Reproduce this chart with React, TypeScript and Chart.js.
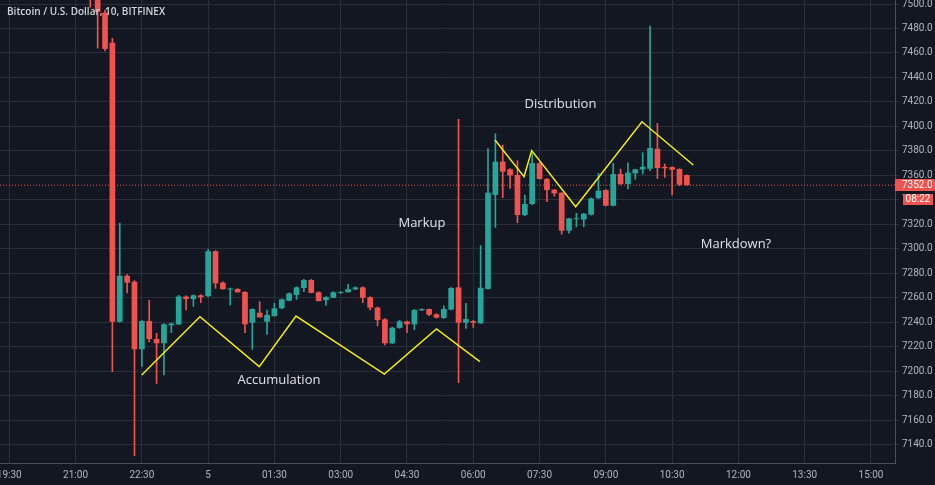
import React, { useEffect, useRef } from "react";
import { Chart, registerables } from "chart.js";

Chart.register(...registerables);

const TITLE = "Bitcoin / U.S. Dollar, 10, BITFINEX";
// bar open times, minutes after 00:00 of the 4th (first bar 21:20, 10-minute bars)
const FIRST_BAR = 1280;
const BAR_MINUTES = 10;

const opens = [
  7530, 7512, 7493, 7468.4, 7240.4, 7278, 7273.1, 7217.9, 7241, 7226.3,
  7222.8, 7237.5, 7238.3, 7261, 7259, 7262, 7261.4, 7298, 7272.3, 7266.8,
  7267.2, 7264.7, 7239.6, 7247.8, 7240.4, 7245, 7251.4, 7257.6, 7262.3, 7268,
  7274.5, 7264.5, 7258, 7260, 7264, 7264.5, 7266.9, 7268.5, 7260.4, 7252,
  7242.4, 7222.8, 7235.4, 7240.7, 7238.3, 7249.8, 7250.8, 7246.5, 7243.5, 7250.3,
  7268.5, 7239.6, 7241, 7239.1, 7267.2, 7344, 7371.2, 7365, 7360.3, 7327.6,
  7336.6, 7370, 7357, 7348.3, 7345.8, 7314.8, 7324.2, 7323.9, 7327.9, 7341.5,
  7348, 7335.2, 7361.1, 7352.9, 7361.7, 7364.9, 7365.4, 7381.8, 7367, 7366.8,
  7365.2, 7360.3,
];
const highs = [
  7535, 7516, 7495, 7472, 7320.8, 7279, 7274, 7241.5, 7258, 7231,
  7239, 7239.5, 7262, 7261.5, 7262.5, 7262.5, 7299.6, 7298.5, 7273, 7268,
  7267.5, 7265, 7251, 7256.8, 7250, 7255.5, 7259, 7264, 7269, 7275,
  7275, 7265, 7261, 7265, 7265, 7271, 7269, 7269, 7261, 7252.5,
  7243, 7236, 7241.5, 7241, 7250.5, 7251, 7251, 7247, 7253.3, 7268.5,
  7405.8, 7255.5, 7241.5, 7302.6, 7381.8, 7394, 7384.8, 7365.5, 7372, 7344,
  7378, 7370.5, 7357.5, 7348.5, 7346, 7325, 7329, 7329, 7341.5, 7361.7,
  7348.5, 7369.8, 7365.2, 7370.3, 7365, 7378.5, 7482, 7402.5, 7369.3, 7367,
  7365.5, 7360.5,
];
const lows = [
  7497.5, 7464, 7461.6, 7199.6, 7240, 7264, 7131, 7204, 7224, 7190,
  7197, 7231.5, 7238, 7250, 7253, 7256, 7261, 7267.7, 7267, 7254,
  7264.5, 7231.5, 7217.9, 7244, 7230, 7245, 7251, 7257.5, 7258.7, 7265,
  7264, 7257.3, 7253.8, 7260, 7263.5, 7264.5, 7266.5, 7256, 7250, 7237,
  7221.4, 7222.5, 7235, 7231.5, 7234, 7249.5, 7245.4, 7243.5, 7243, 7250,
  7190.6, 7235, 7235.8, 7239, 7267, 7317.5, 7341.8, 7349.4, 7321.3, 7327,
  7336, 7357, 7338.5, 7343, 7312, 7312.7, 7318, 7318, 7327.5, 7341,
  7335, 7335, 7352.5, 7348.9, 7356.8, 7361.1, 7363.8, 7357.3, 7358.4, 7344,
  7351.6, 7352,
];
const closes = [
  7510, 7493.5, 7463.3, 7240.4, 7278, 7272.3, 7217.9, 7241, 7226.3, 7222.8,
  7238.3, 7239, 7261, 7259, 7262, 7260.4, 7298, 7271.8, 7267, 7267.6,
  7264.5, 7238.3, 7250.8, 7244, 7246, 7251.4, 7258.7, 7263.6, 7268.5, 7274.5,
  7264, 7257.3, 7260.6, 7264.5, 7264.7, 7267, 7268.5, 7260, 7252, 7241.8,
  7222.8, 7235.5, 7240.8, 7238.3, 7250, 7250.8, 7246.2, 7243.7, 7250.8, 7268,
  7239.6, 7242.6, 7239.6, 7268.2, 7345.9, 7371.2, 7363, 7360, 7327.6, 7336.6,
  7370, 7357, 7348, 7345.3, 7314.8, 7324.9, 7325, 7328.7, 7341.2, 7347.5,
  7335.2, 7361.1, 7352.9, 7362.2, 7364.9, 7367, 7382.4, 7366, 7365.8, 7364.6,
  7352.4, 7352,
];

const xTickValues = [1170, 1260, 1350, 1440, 1530, 1620, 1710, 1800, 1890, 1980, 2070, 2160, 2250, 2340];
const xTickLabels = ["19:30", "21:00", "22:30", "5", "01:30", "03:00", "04:30", "06:00", "07:30", "09:00", "10:30", "12:00", "13:30", "15:00"];

const accumX = [1349.8, 1428.9, 1509.4, 1559.3, 1679.2, 1750, 1809];
const accumY = [7196.9, 7244.5, 7203.7, 7245, 7197.7, 7234.5, 7207.8];
const distX = [1829.5, 1868.9, 1879.3, 1939, 2029, 2098.7];
const distY = [7388.9, 7358.9, 7380.2, 7334.4, 7403.8, 7368.5];

const noteTexts = ["Accumulation", "Markup", "Distribution", "Markdown?"];
const noteX = [1536.2, 1730.3, 1918.4, 2156.7];
const noteY = [7192.8, 7321.1, 7418.3, 7303.9];

const LAST_PRICE = 7352.0;
const COUNTDOWN = "08:22";

const X_MIN = 1157.4;
const X_MAX = 2372.6;
const Y_MIN = 7125;
const Y_MAX = 7503.3;

const UP = "#26a69a";
const DOWN = "#ef5350";
const BG = "#131722";
const GRID = "#2a2e39";
const TEXT = "#b2b5be";

export default function App() {
  const ref = useRef<HTMLCanvasElement | null>(null);

  useEffect(() => {
    document.body.style.margin = "0";
    const canvas = ref.current;
    if (!canvas) return;

    const times = opens.map((_, i) => FIRST_BAR + i * BAR_MINUTES);
    const colors = opens.map((o, i) => (closes[i] >= o ? UP : DOWN));
    const wickData = times.map((t, i) => ({ x: t, y: [lows[i], highs[i]] }));
    const bodyData = times.map((t, i) => ({ x: t, y: [opens[i], closes[i]] }));

    const bgPlugin = {
      id: "bgFill",
      beforeDraw(chart: any) {
        const ctx = chart.ctx;
        ctx.save();
        ctx.fillStyle = BG;
        ctx.fillRect(0, 0, chart.width, chart.height);
        ctx.restore();
      },
    };

    const overlayPlugin = {
      id: "overlay",
      afterDraw(chart: any) {
        const ctx = chart.ctx;
        const xs = chart.scales.x;
        const ys = chart.scales.y;
        const area = chart.chartArea;
        ctx.save();
        ctx.font = '13px "Open Sans"';
        ctx.fillStyle = "#e0e3eb";
        ctx.textAlign = "center";
        ctx.textBaseline = "middle";
        noteTexts.forEach((t, i) => {
          ctx.fillText(t, xs.getPixelForValue(noteX[i]), ys.getPixelForValue(noteY[i]));
        });
        ctx.font = '600 10px "Open Sans"';
        ctx.textAlign = "left";
        ctx.fillStyle = "#d1d4dc";
        ctx.fillText(TITLE, 7, 12);
        const py = Math.round(ys.getPixelForValue(LAST_PRICE));
        ctx.fillStyle = DOWN;
        ctx.fillRect(area.right, py - 6, 40, 12);
        ctx.fillRect(area.right + 8, py + 9, 30, 11);
        ctx.fillStyle = "#ffffff";
        ctx.font = "10px Roboto";
        ctx.textAlign = "left";
        ctx.fillText(LAST_PRICE.toFixed(1), area.right + 7, py);
        ctx.textAlign = "center";
        ctx.fillText(COUNTDOWN, area.right + 23, py + 14.5);
        ctx.restore();
      },
    };

    const chart = new Chart(canvas, {
      type: "bar",
      data: {
        datasets: [
          {
            type: "line",
            data: [
              { x: X_MIN, y: LAST_PRICE },
              { x: X_MAX, y: LAST_PRICE },
            ],
            borderColor: DOWN,
            borderWidth: 1,
            borderDash: [1, 2],
            pointRadius: 0,
            order: 5,
          } as any,
          {
            type: "bar",
            data: wickData as any,
            backgroundColor: colors,
            borderWidth: 0,
            grouped: false,
            maxBarThickness: 1,
            barPercentage: 1,
            categoryPercentage: 1,
            order: 4,
          } as any,
          {
            type: "bar",
            data: bodyData as any,
            backgroundColor: colors,
            borderWidth: 0,
            grouped: false,
            maxBarThickness: 5.7,
            barPercentage: 0.8,
            categoryPercentage: 1,
            minBarLength: 1,
            order: 3,
          } as any,
          {
            type: "line",
            data: accumX.map((x, i) => ({ x, y: accumY[i] })),
            borderColor: "#f5eb10",
            borderWidth: 1.5,
            pointRadius: 0,
            tension: 0,
            order: 1,
          } as any,
          {
            type: "line",
            data: distX.map((x, i) => ({ x, y: distY[i] })),
            borderColor: "#f5eb10",
            borderWidth: 1.5,
            pointRadius: 0,
            tension: 0,
            order: 1,
          } as any,
        ],
      },
      options: {
        responsive: false,
        animation: false,
        devicePixelRatio: 1,
        events: [],
        layout: { autoPadding: false, padding: 0 } as any,
        plugins: {
          legend: { display: false },
          tooltip: { enabled: false },
          title: { display: false },
        },
        scales: {
          x: {
            type: "linear",
            min: X_MIN,
            max: X_MAX,
            offset: false,
            afterFit(scale: any) {
              scale.height = 22;
              scale.paddingLeft = 0;
              scale.paddingRight = 0;
              scale.paddingTop = 0;
              scale.paddingBottom = 0;
            },
            afterBuildTicks(scale: any) {
              scale.ticks = xTickValues.map((v) => ({ value: v }));
            },
            ticks: {
              autoSkip: false,
              maxRotation: 0,
              color: TEXT,
              font: { size: 10, family: "Roboto" },
              padding: 6,
              callback: (v: any) => {
                const i = xTickValues.indexOf(Number(v));
                return i >= 0 ? xTickLabels[i] : "";
              },
            },
            grid: { color: GRID, drawTicks: false, offset: false },
            border: { color: "#4a4e59" },
          },
          y: {
            type: "linear",
            position: "right",
            min: Y_MIN,
            max: Y_MAX,
            afterFit(scale: any) {
              scale.width = 40;
              scale.paddingLeft = 0;
              scale.paddingRight = 0;
              scale.paddingTop = 0;
              scale.paddingBottom = 0;
            },
            ticks: {
              stepSize: 20,
              includeBounds: false,
              maxTicksLimit: 100,
              color: TEXT,
              font: { size: 10, family: "Roboto" },
              padding: 3,
              callback: (v: any) => Number(v).toFixed(1),
            },
            grid: { color: GRID, drawTicks: true, tickLength: 4 },
            border: { color: "#4a4e59" },
          },
        },
      } as any,
      plugins: [bgPlugin, overlayPlugin],
    });

    return () => chart.destroy();
  }, []);

  return (
    <div style={{ width: 935, height: 485 }}>
      <canvas ref={ref} width={935} height={485} style={{ display: "block" }} />
    </div>
  );
}
